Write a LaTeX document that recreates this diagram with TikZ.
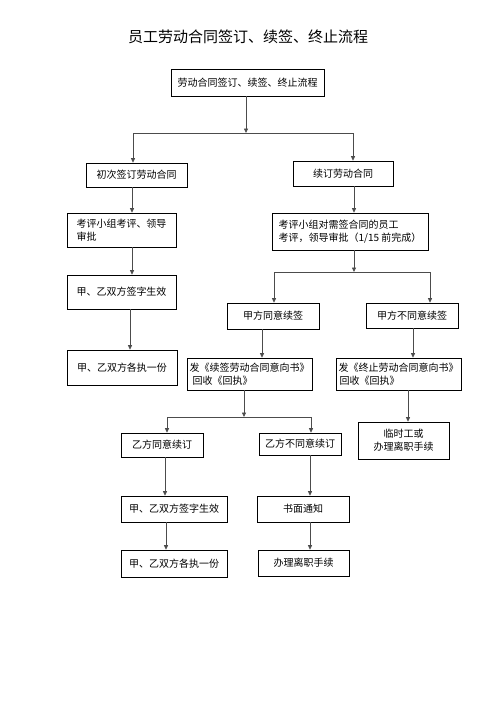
\documentclass[tikz,border=0pt]{standalone}
\usepackage{fontspec}
\usepackage{tikz}
\usetikzlibrary{arrows.meta}
\newfontfamily\cjk{Noto Sans CJK SC}

\tikzset{
  box/.style={draw,line width=0.6pt,inner sep=2pt,align=center,
    font=\cjk\fontsize{10}{13}\selectfont},
  lbox/.style={box,align=left},
  link/.style={draw=black!70,line width=0.8pt},
  arrow/.style={link,-{Triangle[length=4.5pt,width=4pt]}},
}

\begin{document}
\begin{tikzpicture}[x=1pt,y=-1pt]
  \useasboundingbox (0,0) rectangle (496,702);

  \node[font=\cjk\fontsize{15}{18}\selectfont] (title) at (248,37) {员工劳动合同签订、续签、终止流程};

  % top of the chart
  \node[box,minimum width=153pt,minimum height=27pt] (top) at (247.5,82.5) {劳动合同签订、续签、终止流程};
  \node[box,minimum width=101pt,minimum height=24pt] (first) at (136.5,175) {初次签订劳动合同};
  \node[box,minimum width=100pt,minimum height=25pt] (renew) at (343,173.5) {续订劳动合同};

  % left column: first contract
  \node[lbox,minimum width=109pt,minimum height=34pt] (review1) at (121.5,230) {考评小组考评、领导\\审批};
  \node[lbox,minimum width=109pt,minimum height=34pt] (sign1) at (121.5,292) {甲、乙双方签字生效};
  \node[lbox,minimum width=110pt,minimum height=35pt] (copy1) at (122,367.5) {甲、乙双方各执一份};

  % right column: renewal
  \node[lbox,minimum width=156pt,minimum height=37pt] (review2) at (350,231.5) {考评小组对需签合同的员工\\考评，领导审批（1/15 前完成）};
  \node[box,minimum width=92pt,minimum height=26pt] (agreeA) at (273,316) {甲方同意续签};
  \node[box,minimum width=92pt,minimum height=25pt] (refuseA) at (412,315.5) {甲方不同意续签};
  \node[lbox,minimum width=125pt,minimum height=32pt] (noticeA) at (249.5,374) {发《续签劳动合同意向书》\\\hspace{3pt}回收《回执》};
  \node[lbox,minimum width=125pt,minimum height=32pt] (noticeB) at (398.5,374) {发《终止劳动合同意向书》\\\hspace{1pt}回收《回执》};
  \node[box,minimum width=91pt,minimum height=37pt] (tempB) at (403.5,440.5) {临时工或\\办理离职手续};

  \node[box,minimum width=82pt,minimum height=24pt] (agreeB) at (162,445) {乙方同意续订};
  \node[box,minimum width=82pt,minimum height=22pt] (refuseB) at (300,444) {乙方不同意续订};
  \node[box,minimum width=106pt,minimum height=26pt] (sign2) at (174,509) {甲、乙双方签字生效};
  \node[box,minimum width=92pt,minimum height=26pt] (written) at (303,509) {书面通知};
  \node[box,minimum width=106pt,minimum height=27pt] (copy2) at (174,563.5) {甲、乙双方各执一份};
  \node[box,minimum width=91pt,minimum height=26pt] (leave) at (303.5,563) {办理离职手续};

  % split points
  \coordinate (s1l) at (133,133);
  \coordinate (s1r) at (353,133);
  \coordinate (s2l) at (274,272);
  \coordinate (s2r) at (430,272);
  \coordinate (s3l) at (167,417);
  \coordinate (s3r) at (311,417);

  % connectors
  \draw[arrow] (top.south -| 246,0) -- (s1l -| 246,0);
  \draw[link] (s1l) -- (s1r);
  \draw[arrow] (s1l) -- (s1l |- first.north);
  \draw[arrow] (s1r) -- (s1r |- renew.north);

  \draw[arrow] (first.south -| 132,0) -- (review1.north -| 132,0);
  \draw[arrow] (review1.south -| 132,0) -- (sign1.north -| 132,0);
  \draw[arrow] (sign1.south -| 130,0) -- (copy1.north -| 130,0);

  \draw[arrow] (renew.south -| 354,0) -- (review2.north -| 354,0);
  \draw[arrow] (review2.south -| 354,0) -- (s2l -| 354,0);
  \draw[link] (s2l) -- (s2r);
  \draw[arrow] (s2l) -- (s2l |- agreeA.north);
  \draw[arrow] (s2r) -- (s2r |- refuseA.north);

  \draw[arrow] (agreeA.south -| 262,0) -- (noticeA.north -| 262,0);
  \draw[arrow] (refuseA.south -| 413,0) -- (noticeB.north -| 413,0);
  \draw[arrow] (noticeB.south -| 408,0) -- (tempB.north -| 408,0);

  \draw[arrow] (noticeA.south -| 244,0) -- (s3l -| 244,0);
  \draw[link] (s3l) -- (s3r);
  \draw[arrow] (s3l) -- (s3l |- agreeB.north);
  \draw[arrow] (s3r) -- (s3r |- refuseB.north);

  \draw[arrow] (agreeB.south -| 165,0) -- (sign2.north -| 165,0);
  \draw[arrow] (sign2.south -| 166,0) -- (copy2.north -| 166,0);
  \draw[arrow] (refuseB.south -| 310,0) -- (written.north -| 310,0);
  \draw[arrow] (written.south -| 310,0) -- (leave.north -| 310,0);
\end{tikzpicture}
\end{document}
